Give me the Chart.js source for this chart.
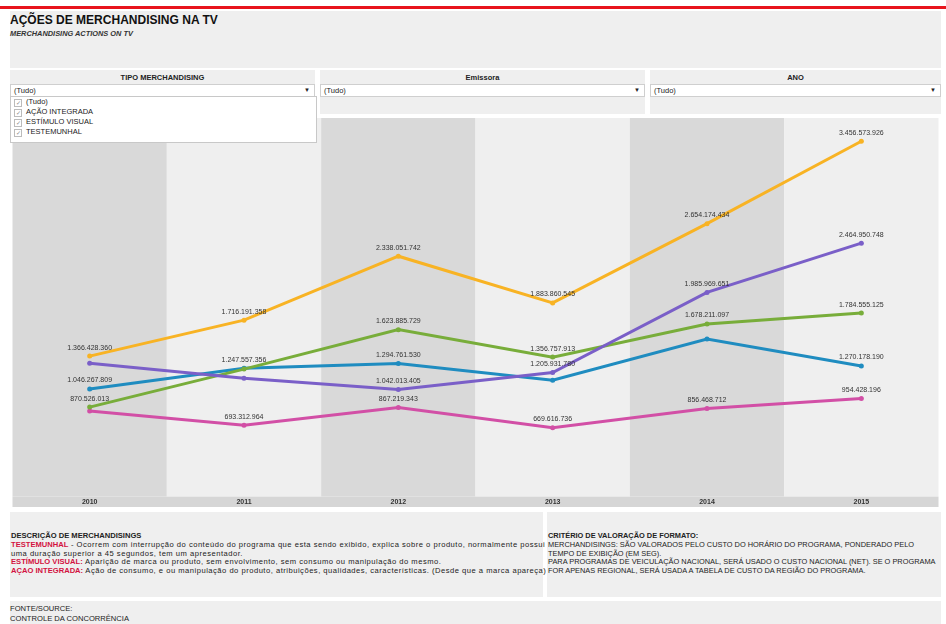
<!DOCTYPE html>
<html lang="pt-BR">
<head>
<meta charset="utf-8">
<title>Ações de Merchandising na TV</title>
<script src="https://cdn.jsdelivr.net/npm/chart.js@4/dist/chart.umd.min.js"></script>
<style>
  html, body { margin: 0; padding: 0; background: #fff; }
  body { width: 946px; height: 624px; position: relative; overflow: hidden; font-family: "Liberation Sans", Arial, sans-serif; color: #222; }
  .abs { position: absolute; }
  .topline { left: 0; top: 6px; width: 946px; height: 3px; background: #e8141c; }
  .header { left: 10px; top: 11px; width: 931px; height: 57px; background: #efefef; }
  .header h1 { margin: 0; position: absolute; left: 0; top: 1px; font-size: 13.5px; font-weight: bold; color: #111; transform: scaleX(0.89); transform-origin: left top; white-space: nowrap; }
  .header .sub { position: absolute; left: 0; top: 18px; font-size: 7.4px; font-style: italic; font-weight: bold; color: #333; }
  .panel { top: 70px; height: 44px; background: #efefef; }
  .panel .ttl { text-align: center; font-size: 7.5px; font-weight: bold; margin-top: 3px; color: #222; }
  .drop { position: absolute; left: 0; right: 0; top: 14px; height: 11px; background: #fff; border: 1px solid #cfcfcf; font-size: 7.5px; line-height: 11px; padding-left: 3px; }
  .drop span { position: absolute; right: 4px; top: 0; font-size: 6px; }
  .list { left: 10px; top: 96px; width: 305px; height: 45px; background: #fff; border: 1px solid #c8c8c8; z-index: 3; font-size: 7.5px; }
  .list div { height: 10px; line-height: 10px; padding-left: 3px; }
  .list b { display: inline-block; width: 6px; height: 6px; border: 1px solid #bbb; margin-right: 4px; font-size: 6px; line-height: 6px; color: #888; font-weight: normal; text-align: center; vertical-align: -1px; }
  #wrap { left: 10px; top: 118px; width: 931px; height: 389px; }
  .box { top: 512px; height: 85px; background: #efefef; font-size: 7.6px; line-height: 8.8px; white-space: nowrap; }
  .box .in { position: absolute; left: 1px; top: 20px; }
  .wide { letter-spacing: 0.5px; }
  .red { color: #d3123f; font-weight: bold; }
  .foot { left: 10px; top: 601px; width: 931px; height: 23px; background: #efefef; font-size: 7.6px; line-height: 10px; }
</style>
</head>
<body>
<div class="abs topline"></div>
<div class="abs header">
  <h1>AÇÕES DE MERCHANDISING NA TV</h1>
  <div class="sub">MERCHANDISING ACTIONS ON TV</div>
</div>

<div class="abs panel" style="left:10px;width:305px">
  <div class="ttl">TIPO MERCHANDISING</div>
  <div class="drop">(Tudo)<span>▼</span></div>
</div>
<div class="abs panel" style="left:320px;width:325px">
  <div class="ttl">Emissora</div>
  <div class="drop">(Tudo)<span>▼</span></div>
</div>
<div class="abs panel" style="left:650px;width:291px">
  <div class="ttl">ANO</div>
  <div class="drop">(Tudo)<span>▼</span></div>
</div>
<div class="abs list">
  <div><b>✓</b>(Tudo)</div>
  <div><b>✓</b>AÇÃO INTEGRADA</div>
  <div><b>✓</b>ESTÍMULO VISUAL</div>
  <div><b>✓</b>TESTEMUNHAL</div>
</div>

<div class="abs" id="wrap"><canvas id="tvChart" width="931" height="389"></canvas></div>

<div class="abs box" style="left:10px;width:533px">
  <div class="in">
    <b>DESCRIÇÃO DE MERCHANDISINGS</b><br>
    <span class="red">TESTEMUNHAL</span><span class="wide"> - Ocorrem com interrupção do conteúdo do programa que esta sendo exibido, explica sobre o produto, normalmente possui</span><br>
    <span class="wide">uma duração superior a 45 segundos, tem um apresentador.</span><br>
    <span class="red">ESTÍMULO VISUAL:</span><span class="wide"> Aparição de marca ou produto, sem envolvimento, sem consumo ou manipulação do mesmo.</span><br>
    <span class="red">AÇAO INTEGRADA:</span><span class="wide"> Ação de consumo, e ou manipulação do produto, atribuições, qualidades, características. (Desde que a marca apareça)</span>
  </div>
</div>
<div class="abs box" style="left:547px;width:394px;font-size:7.4px">
  <div class="in">
    <b>CRITÉRIO DE VALORAÇÃO DE FORMATO:</b><br>
    MERCHANDISINGS: SÃO VALORADOS PELO CUSTO DO HORÁRIO DO PROGRAMA, PONDERADO PELO<br>
    TEMPO DE EXIBIÇÃO (EM SEG).<br>
    PARA PROGRAMAS DE VEICULAÇÃO NACIONAL, SERÁ USADO O CUSTO NACIONAL (NET). SE O PROGRAMA<br>
    FOR APENAS REGIONAL, SERÁ USADA A TABELA DE CUSTO DA REGIÃO DO PROGRAMA.
  </div>
</div>
<div class="abs foot">
  <div style="padding-top:3px">FONTE/SOURCE:<br>CONTROLE DA CONCORRÊNCIA</div>
</div>

<script>
// anos e valores (R$) por linha
const anos = ["2010", "2011", "2012", "2013", "2014", "2015"]
const laranja = [1366428360, 1716191358, 2338051742, 1883860545, 2654174434, 3456573926]
const roxo = [1297000000, 1152000000, 1042013405, 1205931780, 1985969651, 2464950748]
const verde = [870526013, 1240000000, 1623885729, 1356757913, 1678211097, 1784555125]
const azul = [1046267809, 1247557356, 1294761530, 1132000000, 1532000000, 1270178190]
const rosa = [832000000, 693312964, 867219343, 669616736, 856468712, 954428196]

// quais pontos mostram o rótulo de valor
const rotLaranja = [true, true, true, true, true, true]
const rotRoxo = [false, false, true, true, true, true]
const rotVerde = [true, false, true, true, true, true]
const rotAzul = [true, true, true, false, false, true]
const rotRosa = [false, true, true, true, true, true]

const Y_MAX = 3658000000

function fmt(v) {
    return String(Math.round(v)).replace(/\B(?=(\d{3})+(?!\d))/g, ".")
}

function serie(data, cor, rot) {
    return {
        data,
        rotulos: rot,
        borderColor: cor,
        backgroundColor: cor,
        borderWidth: 3,
        pointRadius: 2.5,
        pointHoverRadius: 2.5,
        pointBorderWidth: 0,
        tension: 0,
        clip: false
    }
}

// faixas alternadas por ano + faixa do eixo
const faixas = {
    id: "faixas",
    beforeDraw(chart) {
        const { ctx, chartArea, scales } = chart
        const x = scales.x
        const w = chartArea.width / anos.length
        ctx.save()
        anos.forEach((a, i) => {
            const cx = x.getPixelForValue(i)
            ctx.fillStyle = i % 2 === 0 ? "#d9d9d9" : "#efefef"
            ctx.fillRect(cx - w / 2, 0, w, chartArea.bottom)
        })
        ctx.fillStyle = "#d6d6d6"
        ctx.fillRect(chartArea.left, chartArea.bottom, chartArea.width, chart.height - chartArea.bottom)
        ctx.restore()
    }
}

// rótulos de valor acima dos pontos
const rotulos = {
    id: "rotulos",
    afterDatasetsDraw(chart) {
        const ctx = chart.ctx
        ctx.save()
        ctx.font = "7px 'Liberation Sans', Arial, sans-serif"
        ctx.fillStyle = "#333"
        ctx.textAlign = "center"
        ctx.textBaseline = "bottom"
        chart.data.datasets.forEach((ds, di) => {
            const meta = chart.getDatasetMeta(di)
            meta.data.forEach((pt, i) => {
                if (!ds.rotulos[i]) return
                ctx.fillText(fmt(ds.data[i]), pt.x, pt.y - 5)
            })
        })
        ctx.restore()
    }
}

const ctx = document.getElementById("tvChart").getContext("2d")
new Chart(ctx, {
    type: "line",
    data: {
        labels: anos,
        datasets: [
            serie(laranja, "#f8b324", rotLaranja),
            serie(roxo, "#7a5fc8", rotRoxo),
            serie(verde, "#78ad3a", rotVerde),
            serie(azul, "#1f8cc0", rotAzul),
            serie(rosa, "#d24fa6", rotRosa)
        ]
    },
    options: {
        responsive: false,
        animation: false,
        devicePixelRatio: 1,
        layout: { padding: 0 },
        plugins: { legend: { display: false }, tooltip: { enabled: false } },
        scales: {
            x: {
                offset: true,
                grid: { display: false, drawTicks: false },
                border: { display: false },
                ticks: { color: "#333", padding: 1, font: { size: 7, weight: "bold", family: "'Liberation Sans', Arial, sans-serif" } }
            },
            y: { display: false, min: 0, max: Y_MAX }
        }
    },
    plugins: [faixas, rotulos]
})
</script>
</body>
</html>
